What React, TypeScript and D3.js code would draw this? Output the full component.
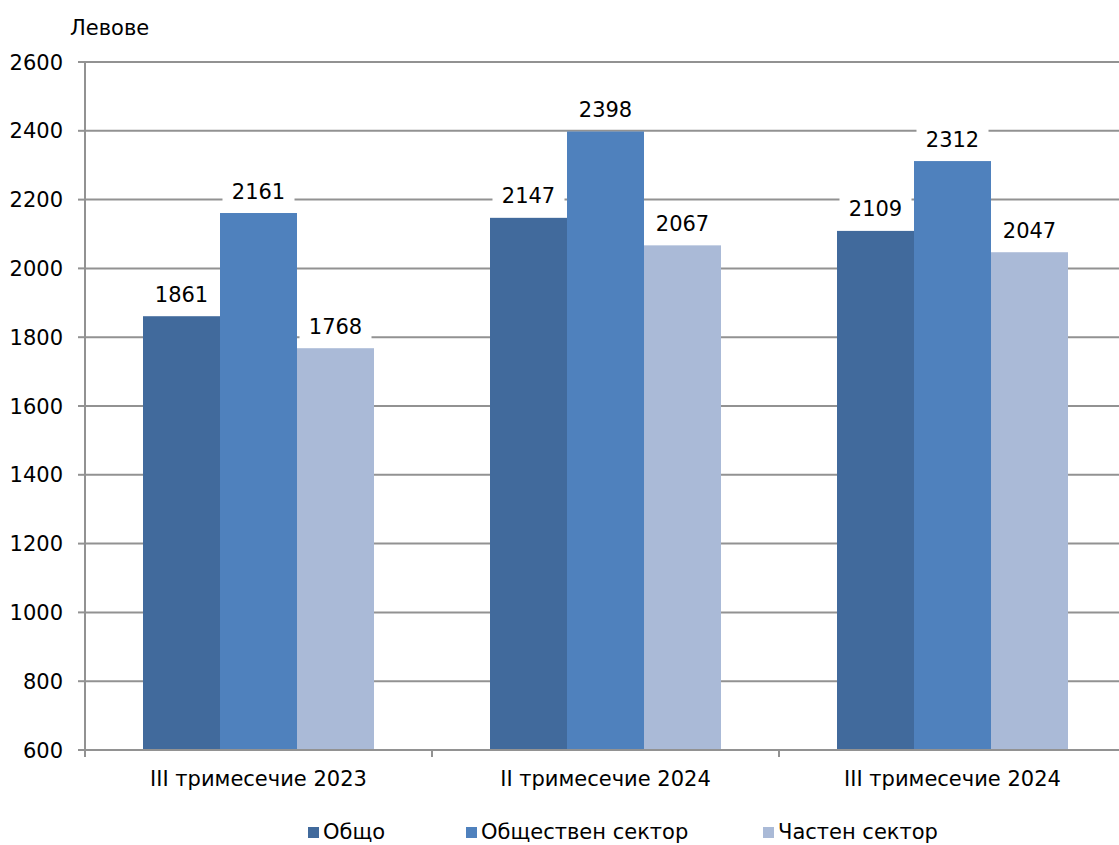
import React from 'react'
import * as d3 from 'd3'

const categories = ['III тримесечие 2023', 'II тримесечие 2024', 'III тримесечие 2024']
const seriesNames = ['Общо', 'Обществен сектор', 'Частен сектор']
const total = [1861, 2147, 2109]
const publicSector = [2161, 2398, 2312]
const privateSector = [1768, 2067, 2047]
const yTicks = [600, 800, 1000, 1200, 1400, 1600, 1800, 2000, 2200, 2400, 2600]

const colors = ['#416A9C', '#4F81BD', '#AABAD7']
const font = 'DejaVu Sans, Verdana, sans-serif'
const fs = 21

const W = 1119
const H = 845
const left = 85
const right = 1126
const top = 62
const bottom = 750

export default function App() {
  const series = [total, publicSector, privateSector]
  const x = d3.scaleBand().domain(categories).range([left, right])
  const y = d3.scaleLinear().domain([600, 2600]).range([bottom, top])

  // bars take 231px of a 347px band
  const barW = x.bandwidth() * (77 / 347)
  const offset = (x.bandwidth() - barW * 3) / 2

  const legendX = [308, 466, 763]

  return (
    <svg width={W} height={H} style={{ position: 'absolute', left: 0, top: 0 }}>
      <rect width={W} height={H} fill="#fff" />
      <text x={70} y={35} fontFamily={font} fontSize={fs} fill="#000">
        Левове
      </text>
      {yTicks.map(t => (
        <g key={t}>
          {t > 600 && (
            <line x1={left} x2={W} y1={y(t)} y2={y(t)} stroke="#929292" strokeWidth={2} />
          )}
          <line x1={78} x2={left} y1={y(t)} y2={y(t)} stroke="#929292" strokeWidth={2} />
          <text
            x={63}
            y={y(t)}
            dy="0.36em"
            textAnchor="end"
            fontFamily={font}
            fontSize={fs}
            fill="#000"
          >
            {t}
          </text>
        </g>
      ))}
      {categories.map((c, i) => (
        <g key={c}>
          {series.map((s, k) => {
            const bx = (x(c) as number) + offset + k * barW
            return (
              <rect
                key={k}
                x={bx}
                y={y(s[i])}
                width={barW}
                height={bottom - y(s[i])}
                fill={colors[k]}
              />
            )
          })}
          <text
            x={(x(c) as number) + x.bandwidth() / 2}
            y={786}
            textAnchor="middle"
            fontFamily={font}
            fontSize={fs}
            fill="#000"
          >
            {c}
          </text>
        </g>
      ))}
      {/* value labels, white box hides the grid behind them */}
      {categories.map((c, i) =>
        series.map((s, k) => {
          const cx = (x(c) as number) + offset + k * barW + barW / 2
          const ty = y(s[i]) - 22
          return (
            <g key={c + k}>
              <rect x={cx - 36} y={ty - 15} width={72} height={30} fill="#fff" />
              <text
                x={cx}
                y={ty}
                dy="0.36em"
                textAnchor="middle"
                fontFamily={font}
                fontSize={fs}
                fill="#000"
              >
                {s[i]}
              </text>
            </g>
          )
        })
      )}
      <line x1={left} x2={left} y1={top} y2={bottom} stroke="#929292" strokeWidth={2} />
      <line x1={left} x2={W} y1={bottom} y2={bottom} stroke="#929292" strokeWidth={2} />
      {[0, 1, 2, 3].map(i => (
        <line
          key={i}
          x1={left + i * x.bandwidth()}
          x2={left + i * x.bandwidth()}
          y1={bottom}
          y2={bottom + 7}
          stroke="#929292"
          strokeWidth={2}
        />
      ))}
      {seriesNames.map((n, k) => (
        <g key={n}>
          <rect x={legendX[k]} y={827} width={11} height={11} fill={colors[k]} />
          <text x={legendX[k] + 15} y={839} fontFamily={font} fontSize={fs} fill="#000">
            {n}
          </text>
        </g>
      ))}
    </svg>
  )
}
